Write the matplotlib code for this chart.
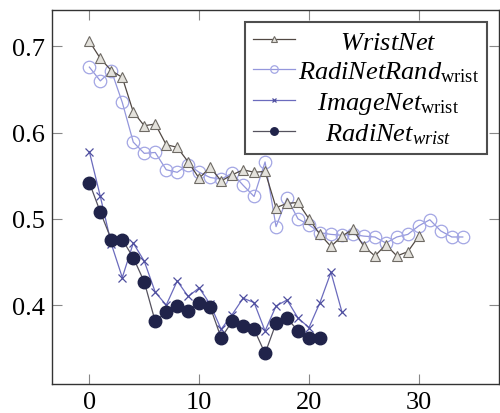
import matplotlib
matplotlib.use('Agg')
import matplotlib.pyplot as plt

plt.rcParams['font.family'] = ['Liberation Serif', 'DejaVu Serif']
plt.rcParams['mathtext.fontset'] = 'custom'
plt.rcParams['mathtext.rm'] = 'Liberation Serif'
plt.rcParams['mathtext.it'] = 'Liberation Serif:italic'

# epochs
x_wrist = list(range(31))
x_rand = list(range(35))
x_imnet = list(range(24))
x_radi = list(range(22))

wristnet = [0.706, 0.686, 0.672, 0.664, 0.624, 0.608, 0.610, 0.586, 0.583, 0.566,
            0.547, 0.560, 0.544, 0.551, 0.557, 0.554, 0.555, 0.513, 0.518, 0.519,
            0.500, 0.482, 0.468, 0.480, 0.488, 0.468, 0.457, 0.470, 0.457, 0.462,
            0.480]
radinet_rand = [0.676, 0.660, 0.672, 0.635, 0.589, 0.576, 0.577, 0.557, 0.554, 0.563,
                0.554, 0.548, 0.546, 0.553, 0.539, 0.526, 0.566, 0.491, 0.524, 0.500,
                0.493, 0.484, 0.482, 0.481, 0.482, 0.480, 0.479, 0.472, 0.479, 0.482,
                0.492, 0.499, 0.486, 0.479, 0.479]
imagenet = [0.578, 0.526, 0.471, 0.432, 0.472, 0.451, 0.415, 0.400, 0.428, 0.410,
            0.420, 0.401, 0.372, 0.389, 0.408, 0.403, 0.370, 0.399, 0.406, 0.385,
            0.374, 0.403, 0.438, 0.392]
radinet = [0.542, 0.508, 0.476, 0.476, 0.455, 0.427, 0.381, 0.392, 0.399, 0.393,
           0.403, 0.398, 0.362, 0.381, 0.376, 0.372, 0.344, 0.379, 0.385, 0.370,
           0.362, 0.362]

labels = [r'\mathit{WristNet}',
          r'\mathit{RadiNetRand}_{\mathrm{wrist}}',
          r'\mathit{ImageNet}_{\mathrm{wrist}}',
          r'\mathit{RadiNet}_{\mathit{wrist}}']

fig = plt.figure(figsize=(5.0, 4.14), dpi=100)
ax = fig.add_axes([0.104, 0.070, 0.894, 0.903])

ax.plot(x_wrist, wristnet, color='#514843', lw=0.9, marker='^', ms=6.5,
        mfc='#e4e2dc', mec='#6e6a64', mew=0.8, label='$' + labels[0] + '$', zorder=3)
ax.plot(x_rand, radinet_rand, color='#9497dc', lw=0.9, marker='o', ms=9,
        mfc='none', mec='#a3a6e4', mew=0.9, label='$' + labels[1] + '$', zorder=2)
ax.plot(x_imnet, imagenet, color='#6b6bbd', lw=0.9, marker='x', ms=5.5,
        mec='#4e4e9e', mew=0.9, label='$' + labels[2] + '$', zorder=3)
ax.plot(x_radi, radinet, color='#55525e', lw=0.9, marker='o', ms=9,
        mfc='#20234a', mec='#20234a', label='$' + labels[3] + '$', zorder=4)

ax.set_xlim(-3.4, 37.3)
ax.set_ylim(0.3085, 0.742)
ax.set_xticks([0, 10, 20, 30])
ax.set_yticks([0.4, 0.5, 0.6, 0.7])
ax.set_yticklabels(['0.4', '0.5', '0.6', '0.7'])
ax.tick_params(direction='in', length=7, width=0.8, color='#888888',
               top=True, right=True, labelsize=19, pad=5)
for s in ax.spines.values():
    s.set_color('#333333')
    s.set_linewidth(1.0)

leg = ax.legend(loc='upper right', bbox_to_anchor=(0.973, 0.968), fontsize=19,
                frameon=True, fancybox=False, edgecolor='#222222',
                handlelength=1.6, handletextpad=0.1, borderpad=0.3,
                labelspacing=0.22, borderaxespad=0.0, markerscale=0.6)
leg.get_frame().set_linewidth(1.5)

# centre the legend labels like the original
fig.canvas.draw()
r = fig.canvas.get_renderer()
texts = leg.get_texts()
widths = [t.get_window_extent(r).width for t in texts]
t0 = texts[0]
t0.set_text('$\\hspace{1}' + labels[0] + '$')
em = t0.get_window_extent(r).width - widths[0]
wmax = max(widths)
for t, lab, w in zip(texts, labels, widths):
    t.set_text('$\\hspace{%.3f}' % ((wmax - w) / 2 / em) + lab + '$')

fig.savefig('out.png', dpi=100)
